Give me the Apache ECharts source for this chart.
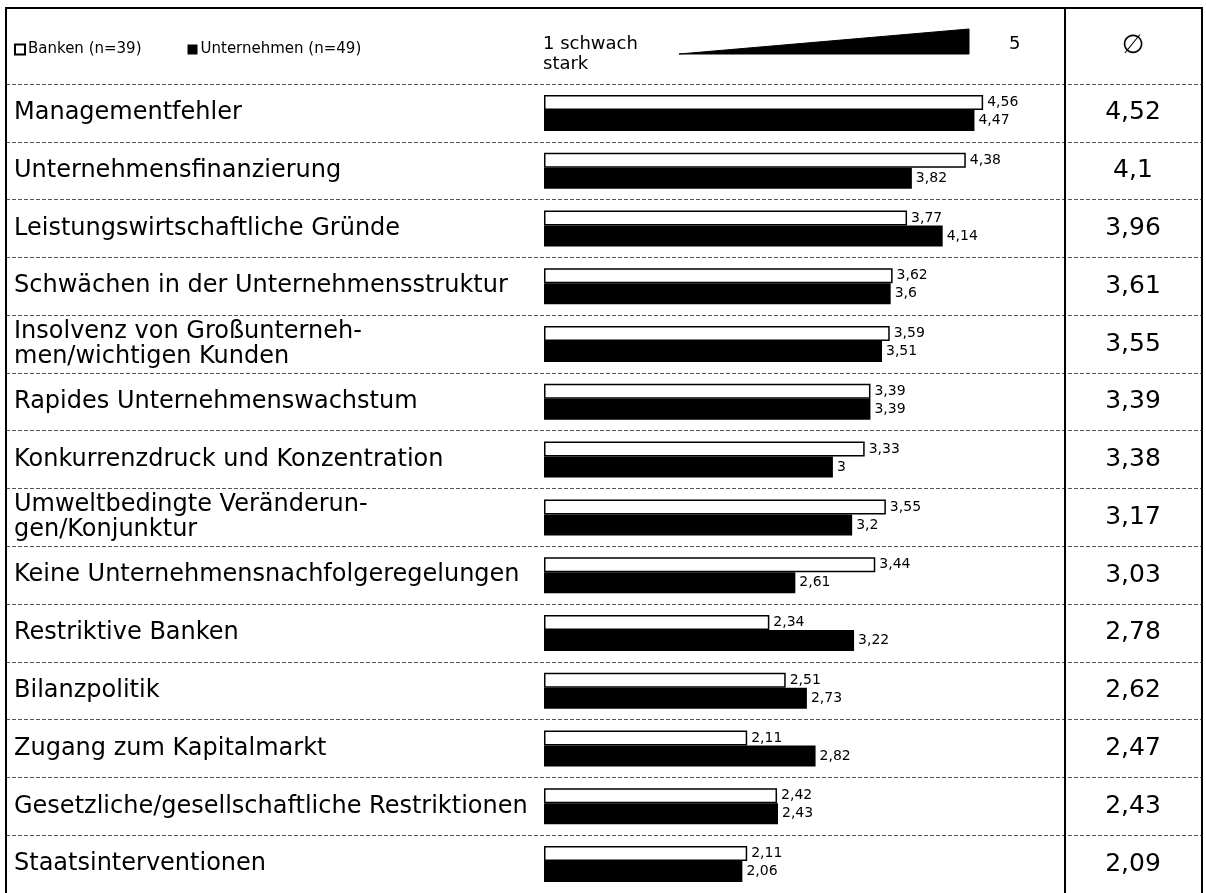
<!DOCTYPE html>
<html>
<head>
<meta charset="utf-8">
<script src="https://cdn.jsdelivr.net/npm/echarts@6/dist/echarts.min.js"></script>
<style>
  html, body { margin: 0; padding: 0; background: #fff; }
  #chart { width: 1206px; height: 893px; }
</style>
</head>
<body>
<div id="chart"></div>
<script>
// Daten
const categories = [
  "Managementfehler",
  "Unternehmensfinanzierung",
  "Leistungswirtschaftliche Gründe",
  "Schwächen in der Unternehmensstruktur",
  "Insolvenz von Großunterneh-\nmen/wichtigen Kunden",
  "Rapides Unternehmenswachstum",
  "Konkurrenzdruck und Konzentration",
  "Umweltbedingte Veränderun-\ngen/Konjunktur",
  "Keine Unternehmensnachfolgeregelungen",
  "Restriktive Banken",
  "Bilanzpolitik",
  "Zugang zum Kapitalmarkt",
  "Gesetzliche/gesellschaftliche Restriktionen",
  "Staatsinterventionen"
];
const banken = [4.56, 4.38, 3.77, 3.62, 3.59, 3.39, 3.33, 3.55, 3.44, 2.34, 2.51, 2.11, 2.42, 2.11];
const unternehmen = [4.47, 3.82, 4.14, 3.6, 3.51, 3.39, 3, 3.2, 2.61, 3.22, 2.73, 2.82, 2.43, 2.06];
const durchschnitt = [4.52, 4.1, 3.96, 3.61, 3.55, 3.39, 3.38, 3.17, 3.03, 2.78, 2.62, 2.47, 2.43, 2.09];

// Layout: Wert 0 liegt bei x=544, 1 Punkt = 96.3 px
const frameLeft = 6;
const frameRight = 1202;
const zeroX = 544;
const unit = 96.3;

const fmt = (v) => String(v).replace(".", ",");

const chart = echarts.init(document.getElementById("chart"));

const barLabel = {
  show: true,
  position: "right",
  distance: 4,
  formatter: (p) => fmt(p.value),
  fontSize: 14,
  fontFamily: "DejaVu Sans",
  color: "#000"
};

const option = {
  animation: false,
  legend: {
    left: 9,
    top: 37,
    icon: "rect",
    itemWidth: 10,
    itemHeight: 10,
    itemGap: 46,
    textStyle: { fontSize: 15, fontFamily: "DejaVu Sans", color: "#000", padding: [0, 0, 0, -2] },
    data: ["Banken (n=39)", "Unternehmen (n=49)"]
  },
  grid: {
    left: frameLeft,
    right: 1206 - frameRight,
    top: 84,
    height: 816
  },
  xAxis: {
    type: "value",
    show: false,
    min: -(zeroX - frameLeft) / unit,
    max: (frameRight - zeroX) / unit
  },
  yAxis: [
    {
      type: "category",
      inverse: true,
      data: categories,
      axisLine: { show: false },
      axisTick: { show: false },
      splitLine: {
        show: true,
        lineStyle: { color: "#555", width: 1, type: [4, 2] }
      },
      axisLabel: {
        inside: true,
        margin: 8,
        align: "left",
        fontSize: 24,
        lineHeight: 25,
        fontFamily: "DejaVu Sans",
        color: "#000"
      }
    },
    {
      type: "category",
      inverse: true,
      position: "right",
      data: durchschnitt.map(fmt),
      axisLine: { show: false },
      axisTick: { show: false },
      splitLine: { show: false },
      axisLabel: {
        inside: true,
        margin: 69,
        align: "center",
        fontSize: 25,
        fontFamily: "DejaVu Sans",
        color: "#000"
      }
    }
  ],
  series: [
    {
      name: "Banken (n=39)",
      type: "bar",
      data: banken,
      barWidth: 15,
      barGap: "0%",
      itemStyle: { color: "#fff", borderColor: "#000", borderWidth: 1.5 },
      label: barLabel
    },
    {
      name: "Unternehmen (n=49)",
      type: "bar",
      data: unternehmen,
      barWidth: 21,
      barGap: "0%",
      itemStyle: { color: "#000" },
      label: barLabel
    }
  ],
  graphic: [
    // Rahmen
    {
      type: "rect",
      shape: { x: frameLeft, y: 8, width: frameRight - frameLeft, height: 900 },
      style: { fill: "none", stroke: "#000", lineWidth: 2 },
      z: 10
    },
    {
      type: "line",
      shape: { x1: 1065, y1: 8, x2: 1065, y2: 893 },
      style: { stroke: "#000", lineWidth: 2 },
      z: 10
    },
    // Skala im Kopf
    {
      type: "text",
      left: 543,
      top: 35,
      style: { text: "1 schwach", fontSize: 18, fontFamily: "DejaVu Sans", fill: "#000" }
    },
    {
      type: "text",
      left: 543,
      top: 55,
      style: { text: "stark", fontSize: 18, fontFamily: "DejaVu Sans", fill: "#000" }
    },
    {
      type: "polygon",
      shape: { points: [[679, 54], [969, 29], [969, 54]] },
      style: { fill: "#000", stroke: "#000", lineWidth: 1 }
    },
    {
      type: "text",
      left: 1009,
      top: 35,
      style: { text: "5", fontSize: 18, fontFamily: "DejaVu Sans", fill: "#000" }
    },
    {
      type: "text",
      x: 1133,
      y: 46,
      style: {
        text: "∅",
        fontSize: 26,
        fontFamily: "DejaVu Sans",
        fill: "#000",
        align: "center",
        verticalAlign: "middle"
      }
    }
  ]
};

chart.setOption(option);
window.addEventListener("resize", () => chart.resize());
</script>
</body>
</html>
